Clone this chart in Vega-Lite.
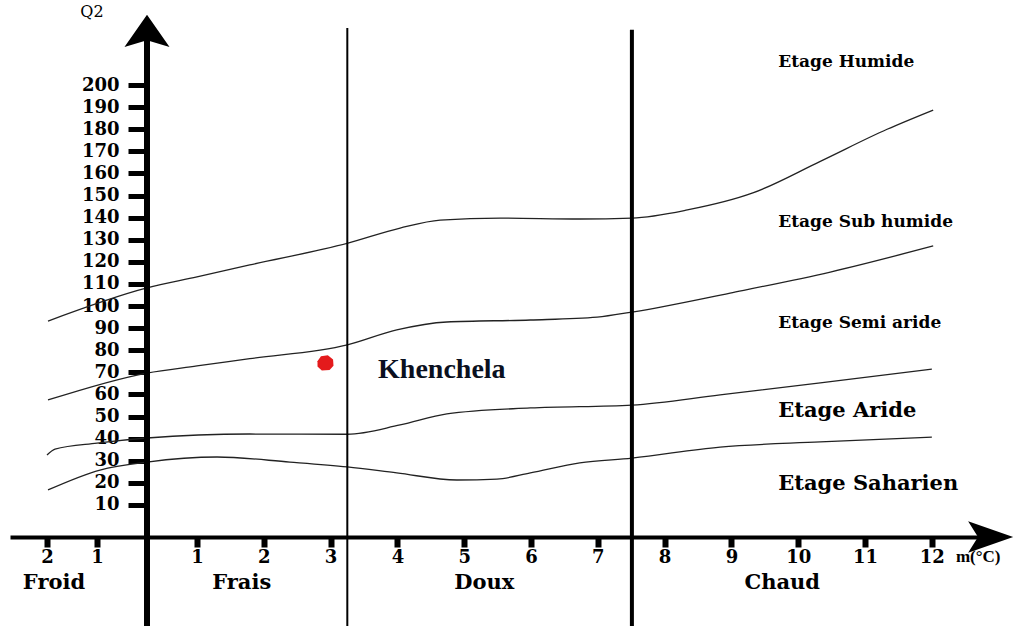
{
  "$schema": "https://vega.github.io/schema/vega-lite/v6.json",
  "width": 990,
  "height": 537,
  "autosize": {"type": "none"},
  "padding": {"left": 10, "top": 0, "right": 25, "bottom": 89},
  "background": "white",
  "config": {"view": {"stroke": null}},
  "datasets": {
    "curves": [
      {"curve": "c1", "m": -1.98, "q2": 93.2}, {"curve": "c1", "m": 0, "q2": 108.2}, {"curve": "c1", "m": 1, "q2": 113.2}, {"curve": "c1", "m": 1.79, "q2": 118.6}, {"curve": "c1", "m": 3.26, "q2": 128.5}, {"curve": "c1", "m": 4.04, "q2": 135.3}, {"curve": "c1", "m": 4.64, "q2": 138.9}, {"curve": "c1", "m": 5.54, "q2": 139.8}, {"curve": "c1", "m": 6.73, "q2": 139.4}, {"curve": "c1", "m": 7.51, "q2": 139.8}, {"curve": "c1", "m": 8.34, "q2": 143.5}, {"curve": "c1", "m": 9.32, "q2": 151.2}, {"curve": "c1", "m": 10.33, "q2": 165.5}, {"curve": "c1", "m": 11.33, "q2": 180}, {"curve": "c1", "m": 12.02, "q2": 188.7},
      {"curve": "c2", "m": -1.98, "q2": 57.5}, {"curve": "c2", "m": 0, "q2": 69.7}, {"curve": "c2", "m": 1, "q2": 72.9}, {"curve": "c2", "m": 1.79, "q2": 76.2}, {"curve": "c2", "m": 3.25, "q2": 82.4}, {"curve": "c2", "m": 3.99, "q2": 89.2}, {"curve": "c2", "m": 4.74, "q2": 92.8}, {"curve": "c2", "m": 5.99, "q2": 93.7}, {"curve": "c2", "m": 6.99, "q2": 95}, {"curve": "c2", "m": 7.51, "q2": 97.3}, {"curve": "c2", "m": 8.98, "q2": 105.9}, {"curve": "c2", "m": 10.48, "q2": 115.4}, {"curve": "c2", "m": 12.02, "q2": 127.2},
      {"curve": "c3", "m": -2, "q2": 32.6}, {"curve": "c3", "m": -1.84, "q2": 35.3}, {"curve": "c3", "m": -1, "q2": 38}, {"curve": "c3", "m": 0, "q2": 40.3}, {"curve": "c3", "m": 1.79, "q2": 42.1}, {"curve": "c3", "m": 3.25, "q2": 42}, {"curve": "c3", "m": 4.04, "q2": 46.2}, {"curve": "c3", "m": 4.74, "q2": 51.2}, {"curve": "c3", "m": 5.99, "q2": 53.9}, {"curve": "c3", "m": 7.51, "q2": 55.2}, {"curve": "c3", "m": 8.83, "q2": 59.8}, {"curve": "c3", "m": 10.33, "q2": 65.2}, {"curve": "c3", "m": 12, "q2": 71.5},
      {"curve": "c4", "m": -1.98, "q2": 16.8}, {"curve": "c4", "m": -0.94, "q2": 25.8}, {"curve": "c4", "m": 0, "q2": 29.4}, {"curve": "c4", "m": 1.3, "q2": 31.7}, {"curve": "c4", "m": 2.39, "q2": 29.4}, {"curve": "c4", "m": 3.25, "q2": 27.2}, {"curve": "c4", "m": 3.99, "q2": 24.5}, {"curve": "c4", "m": 4.89, "q2": 21.3}, {"curve": "c4", "m": 5.49, "q2": 21.7}, {"curve": "c4", "m": 5.99, "q2": 24.5}, {"curve": "c4", "m": 6.73, "q2": 29}, {"curve": "c4", "m": 7.51, "q2": 31.2}, {"curve": "c4", "m": 8.83, "q2": 36.2}, {"curve": "c4", "m": 10.33, "q2": 38.5}, {"curve": "c4", "m": 12, "q2": 40.7}
    ],
    "thinLines": [{"m": 3.25, "q2": -45, "q2top": 225.8}],
    "thickLines": [{"m": 7.51, "q2": -45, "q2top": 225}],
    "q2Axis": [{"m": 0, "q2": -45, "q2top": 222}],
    "upArrow": [{"m": 0, "q2": 224.5}],
    "rightArrow": [{"m": 12.88, "q2": -4.5}],
    "site": [{"name": "Khenchela", "m": 2.92, "q2": 74.2}],
    "siteLabel": [{"label": "Khenchela", "m": 3.71, "q2": 71.1}],
    "etagesSmall": [
      {"label": "Etage Humide", "m": 9.7, "q2": 210.4},
      {"label": "Etage Sub humide", "m": 9.7, "q2": 138},
      {"label": "Etage Semi aride", "m": 9.7, "q2": 92.3}
    ],
    "etagesBig": [
      {"label": "Etage Aride", "m": 9.7, "q2": 52.5},
      {"label": "Etage Saharien", "m": 9.7, "q2": 19.5}
    ],
    "zones": [
      {"label": "Froid", "m": -1.86, "q2": -25.3},
      {"label": "Frais", "m": 1.67, "q2": -25.3},
      {"label": "Doux", "m": 5.3, "q2": -25.3},
      {"label": "Chaud", "m": 9.76, "q2": -25.3}
    ],
    "xTitle": [{"label": "m(\u00b0C)", "m": 12.36, "q2": -13.5}],
    "yTitle": [{"label": "Q2", "m": -1.1, "q2": 233}]
  },
  "encoding": {
    "x": {
      "field": "m", "type": "quantitative",
      "scale": {"domain": [-2.74, 0, 1, 13.02], "range": [0, 137, 187, 990], "nice": false, "zero": false},
      "axis": {
        "orient": "bottom", "values": [-2, -1, 1, 2, 3, 4, 5, 6, 7, 8, 9, 10, 11, 12],
        "labelExpr": "abs(datum.value)", "domainColor": "black", "domainWidth": 4,
        "tickColor": "black", "tickWidth": 6, "tickSize": 10,
        "labelFont": "DejaVu Serif", "labelFontWeight": "bold", "labelFontSize": 18,
        "labelColor": "black", "labelPadding": 1, "grid": false, "title": null,
        "labelOverlap": false, "labelFlush": false
      }
    },
    "y": {
      "field": "q2", "type": "quantitative",
      "scale": {"domain": [-4.5, 238.5], "nice": false, "zero": false},
      "axis": {
        "orient": "left", "offset": -137,
        "values": [10, 20, 30, 40, 50, 60, 70, 80, 90, 100, 110, 120, 130, 140, 150, 160, 170, 180, 190, 200],
        "domain": false, "tickColor": "black", "tickWidth": 5, "tickSize": 19,
        "labelFont": "DejaVu Serif", "labelFontWeight": "bold", "labelFontSize": 18,
        "labelColor": "black", "labelPadding": 9, "grid": false, "title": null,
        "labelOverlap": false, "labelFlush": false
      }
    }
  },
  "layer": [
    {
      "data": {"name": "curves"},
      "mark": {"type": "line", "interpolate": "monotone", "stroke": "#222222", "strokeWidth": 1.3},
      "encoding": {"detail": {"field": "curve", "type": "nominal"}}
    },
    {
      "data": {"name": "thinLines"},
      "mark": {"type": "rule", "stroke": "black", "strokeWidth": 2},
      "encoding": {"y2": {"field": "q2top"}}
    },
    {
      "data": {"name": "thickLines"},
      "mark": {"type": "rule", "stroke": "black", "strokeWidth": 4},
      "encoding": {"y2": {"field": "q2top"}}
    },
    {
      "data": {"name": "q2Axis"},
      "mark": {"type": "rule", "stroke": "black", "strokeWidth": 6},
      "encoding": {"y2": {"field": "q2top"}}
    },
    {
      "data": {"name": "upArrow"},
      "mark": {"type": "point", "shape": "M0,-0.7L0.98,0.7L0,0.4L-0.98,0.7Z", "filled": true, "color": "black", "opacity": 1, "size": 2116}
    },
    {
      "data": {"name": "rightArrow"},
      "mark": {"type": "point", "shape": "M0.98,0L-0.98,-0.68L-0.55,0L-0.98,0.68Z", "filled": true, "color": "black", "opacity": 1, "size": 2116}
    },
    {
      "data": {"name": "site"},
      "mark": {"type": "point", "shape": "M-0.9,-0.2L-0.5,-0.8L0.3,-0.9L0.9,-0.4L0.95,0.3L0.5,0.8L-0.4,0.85L-0.9,0.4Z", "filled": true, "color": "#e41a1c", "opacity": 1, "size": 300}
    },
    {
      "data": {"name": "siteLabel"},
      "mark": {"type": "text", "align": "left", "baseline": "middle", "font": "Liberation Serif", "fontWeight": "bold", "fontSize": 28, "color": "#0a1020"},
      "encoding": {"text": {"field": "label"}}
    },
    {
      "data": {"name": "etagesSmall"},
      "mark": {"type": "text", "align": "left", "baseline": "middle", "font": "DejaVu Serif", "fontWeight": "bold", "fontSize": 17, "color": "black"},
      "encoding": {"text": {"field": "label"}}
    },
    {
      "data": {"name": "etagesBig"},
      "mark": {"type": "text", "align": "left", "baseline": "middle", "font": "DejaVu Serif", "fontWeight": "bold", "fontSize": 21, "color": "black"},
      "encoding": {"text": {"field": "label"}}
    },
    {
      "data": {"name": "zones"},
      "mark": {"type": "text", "align": "center", "baseline": "middle", "font": "DejaVu Serif", "fontWeight": "bold", "fontSize": 21, "color": "black"},
      "encoding": {"text": {"field": "label"}}
    },
    {
      "data": {"name": "xTitle"},
      "mark": {"type": "text", "align": "left", "baseline": "middle", "font": "Liberation Serif", "fontWeight": "bold", "fontSize": 17, "color": "black"},
      "encoding": {"text": {"field": "label"}}
    },
    {
      "data": {"name": "yTitle"},
      "mark": {"type": "text", "align": "center", "baseline": "middle", "font": "DejaVu Serif", "fontSize": 16, "color": "black"},
      "encoding": {"text": {"field": "label"}}
    }
  ]
}
